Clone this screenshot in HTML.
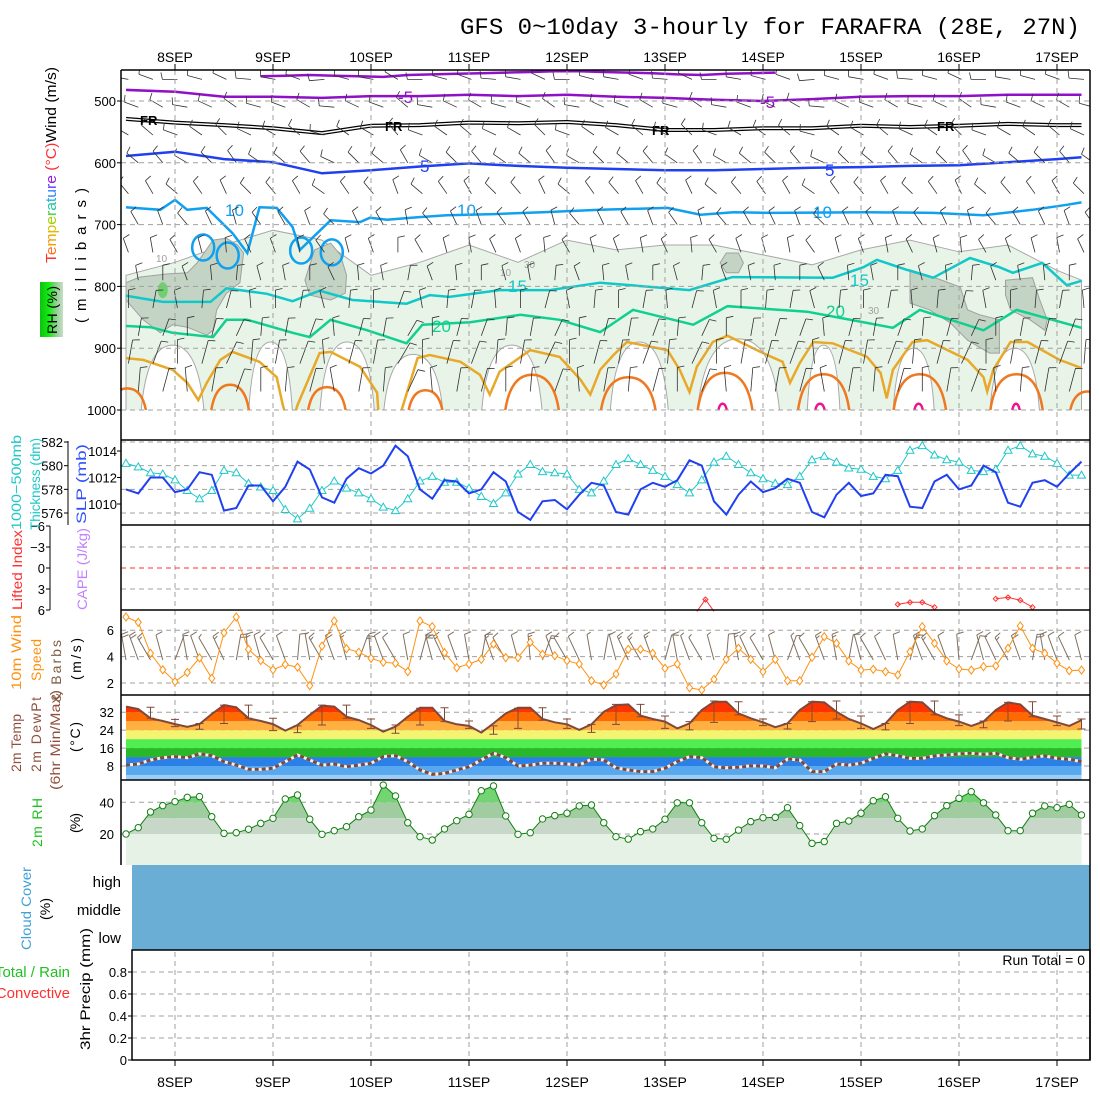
<!DOCTYPE html>
<html><head><meta charset="utf-8"><title>GFS meteogram FARAFRA</title>
<style>
html,body{margin:0;padding:0;background:#fff;}
svg{display:block;font-family:"Liberation Sans",sans-serif;}
</style></head>
<body>
<svg id="chart" xmlns="http://www.w3.org/2000/svg" width="1100" height="1100" viewBox="0 0 1100 1100">
<defs>
<clipPath id="clipUpper"><rect x="121" y="70" width="969" height="340"/></clipPath>
<clipPath id="clipTemp"><path id="tempClipPath" d=""/></clipPath>
<clipPath id="clipRH"><path id="rhClipPath" d=""/></clipPath>
<linearGradient id="rhgrad" x1="0" x2="1" y1="0" y2="0"><stop offset="0" stop-color="#10c010"/><stop offset="0.4" stop-color="#10f010"/><stop offset="0.7" stop-color="#90d090"/><stop offset="1" stop-color="#c8dcc8"/></linearGradient>
</defs>
<rect x="0" y="0" width="1100" height="1100" fill="#fff"/>
<text x="460" y="34" font-family="Liberation Mono, monospace" font-size="23" textLength="620" lengthAdjust="spacingAndGlyphs" fill="#000">GFS 0~10day 3-hourly for FARAFRA (28E, 27N)</text>

<g id="upperFill" clip-path="url(#clipUpper)"></g>
<g id="upperLines" clip-path="url(#clipUpper)"></g>
<g id="upperBarbs" clip-path="url(#clipUpper)"></g>
<g id="grid"></g>
<g id="marks"></g>
<g id="axes"></g>

<text transform="translate(56,263) rotate(-90)" font-size="15" textLength="196" lengthAdjust="spacingAndGlyphs"><tspan fill="#ff3030">T</tspan><tspan fill="#ff7020">e</tspan><tspan fill="#f0a000">m</tspan><tspan fill="#d8c000">p</tspan><tspan fill="#a0d000">e</tspan><tspan fill="#40d040">r</tspan><tspan fill="#20c8a0">a</tspan><tspan fill="#20b0e0">t</tspan><tspan fill="#3080ff">u</tspan><tspan fill="#6040ff">r</tspan><tspan fill="#9020e0">e</tspan><tspan fill="#ff3030"> (°C)</tspan><tspan fill="#000">Wind (m/s)</tspan></text>
<text transform="translate(86,323) rotate(-90)" font-size="15" textLength="135" lengthAdjust="spacing" fill="#000">(millibars)</text>
<rect x="40" y="282" width="23" height="55" fill="url(#rhgrad)"/>
<text transform="translate(57,334) rotate(-90)" font-size="14" textLength="48" fill="#000">RH (%)</text>

<text transform="translate(21,530) rotate(-90)" font-size="14" textLength="95" lengthAdjust="spacingAndGlyphs" fill="#20c8c8">1000−500mb</text>
<text transform="translate(40,530) rotate(-90)" font-size="14" textLength="92" lengthAdjust="spacingAndGlyphs" fill="#20c8c8">Thickness (dm)</text>
<text transform="translate(86,524) rotate(-90)" font-size="14" textLength="80" lengthAdjust="spacingAndGlyphs" fill="#3050ff">SLP (mb)</text>
<text transform="translate(22,610) rotate(-90)" font-size="14" textLength="80" lengthAdjust="spacingAndGlyphs" fill="#ff3030">Lifted Index</text>
<text transform="translate(87,610) rotate(-90)" font-size="14" textLength="82" lengthAdjust="spacingAndGlyphs" fill="#c080ff">CAPE (J/kg)</text>
<text transform="translate(21,690) rotate(-90)" font-size="14" textLength="75" lengthAdjust="spacingAndGlyphs" fill="#ff9010">10m Wind</text>
<text transform="translate(41,681) rotate(-90)" font-size="14" textLength="42" fill="#ff9010">Speed</text>
<text transform="translate(61,702) rotate(-90)" font-size="14" textLength="62" fill="#806040">&amp; Barbs</text>
<text transform="translate(81,680) rotate(-90)" font-size="14" textLength="42" fill="#000">(m/s)</text>
<text transform="translate(21,772) rotate(-90)" font-size="14" textLength="58" fill="#905040">2m Temp</text>
<text transform="translate(41,772) rotate(-90)" font-size="14" textLength="75" fill="#905040">2m DewPt</text>
<text transform="translate(60,790) rotate(-90)" font-size="14" textLength="100" lengthAdjust="spacingAndGlyphs" fill="#905040">(6hr Min/Max)</text>
<text transform="translate(80,752) rotate(-90)" font-size="14" textLength="30" fill="#000">(°C)</text>
<text transform="translate(42,847) rotate(-90)" font-size="14" textLength="49" fill="#20c020">2m RH</text>
<text transform="translate(80,833) rotate(-90)" font-size="14" textLength="20" fill="#000">(%)</text>
<text transform="translate(31,950) rotate(-90)" font-size="14" textLength="83" lengthAdjust="spacingAndGlyphs" fill="#40a0d8">Cloud Cover</text>
<text transform="translate(50,920) rotate(-90)" font-size="14" textLength="22" fill="#000">(%)</text>
<text x="121" y="887" font-size="15" text-anchor="end" fill="#000">high</text>
<text x="121" y="915" font-size="15" text-anchor="end" fill="#000">middle</text>
<text x="121" y="943" font-size="15" text-anchor="end" fill="#000">low</text>
<text x="70" y="977" font-size="15" text-anchor="end" fill="#20c020">Total / Rain</text>
<text x="70" y="998" font-size="15" text-anchor="end" fill="#ff3030">Convective</text>
<text transform="translate(90,1050) rotate(-90)" font-size="14" textLength="122" lengthAdjust="spacingAndGlyphs" fill="#000">3hr Precip (mm)</text>
<text x="1085" y="965" font-size="14" text-anchor="end" fill="#000">Run Total = 0</text>
</svg>

<script>
const days = ['8SEP','9SEP','10SEP','11SEP','12SEP','13SEP','14SEP','15SEP','16SEP','17SEP'];
const dayIdx = [4,12,20,28,36,44,52,60,68,76];
const slp = [1011.1,1010.8,1012.0,1012.0,1010.9,1011.1,1012.4,1012.2,1009.5,1009.7,1011.4,1011.4,1010.2,1011.3,1013.2,1012.6,1010.5,1010.1,
1011.9,1012.7,1012.3,1012.9,1014.4,1013.6,1011.1,1010.4,1011.8,1011.7,1010.8,1011.1,1012.4,1011.7,1009.4,1008.8,1010.2,1010.3,1009.6,1010.7,
1011.6,1011.4,1009.4,1009.2,1011.1,1011.6,1011.3,1011.8,1013.3,1012.9,1010.2,1009.2,1010.7,1011.7,1010.9,1011.2,1011.9,1011.6,1009.4,1009.0,
1010.7,1011.6,1010.6,1010.8,1012.2,1012.1,1009.8,1009.7,1011.7,1012.2,1011.1,1011.4,1012.9,1012.4,1010.1,1009.8,1011.6,1011.8,1011.3,1012.3,1013.2];
const thick = [580.2,579.9,579.4,579.3,578.8,577.9,577.2,577.9,579.6,579.4,578.5,578.2,577.9,576.3,575.5,576.4,577.9,578.7,578.1,
577.7,577.2,576.5,576.2,577.2,578.7,579.1,578.6,578.6,578.1,577.4,576.8,577.7,579.3,580.1,579.5,579.4,579.3,578.0,577.7,578.7,580.1,580.6,580.1,
579.6,579.1,578.4,577.7,578.8,580.3,580.8,580.1,579.4,578.9,578.5,578.4,579.1,580.5,580.8,580.3,579.8,579.7,579.1,578.9,579.6,581.3,581.7,580.9,
580.5,580.3,579.6,579.5,579.7,581.3,581.7,581.0,580.8,580.2,579.2,579.2];
const wspd = [7.0,6.6,4.25,3.0,2.1,2.8,3.9,2.35,5.8,7.0,4.55,3.7,3.0,3.4,3.2,1.8,4.8,6.7,4.6,
4.33,3.87,3.57,3.49,2.86,6.70,6.27,4.30,3.16,3.44,3.79,4.95,3.92,3.92,5.08,4.17,4.07,3.69,3.44,2.17,1.85,2.68,4.55,4.55,4.25,3.11,3.44,1.64,1.47,
2.28,3.79,4.63,3.79,2.86,3.79,2.17,2.17,3.95,5.51,5.01,3.67,2.98,3.04,2.86,2.61,4.37,6.27,5.01,3.67,3.06,2.98,3.24,3.29,4.63,6.32,4.63,4.25,3.49,2.93,2.98];
const wdir = [350,340,330,345,20,350,340,330,335,10,355,345,330,340,5,350,330,340,345,20,355,340,330,350,15,345,335,340,350,10,340,330,345,355,20,340,330,335,350,
10,345,335,330,340,15,350,340,330,345,5,350,335,330,345,20,340,330,340,350,10,345,330,335,350,15,340,330,340,355,20,345,335,330,340,10,350,340,335,345];
const temp2m = [34.5,33.4,29.3,28.1,26.7,25.5,26.7,31.2,35.2,34.2,29.3,28.1,26.7,23.8,26.3,30.8,34.9,34.5,30.0,
28.5,26.3,23.3,25.6,30.0,34.0,34.0,28.1,26.6,25.9,22.9,27.0,31.5,34.0,34.0,29.0,27.5,26.6,24.1,26.6,32.2,35.2,35.5,30.5,29.0,27.8,24.8,27.0,33.0,
36.7,36.7,31.5,29.3,27.5,25.3,27.0,33.0,36.7,36.4,32.2,29.0,27.0,24.5,27.0,33.0,36.7,36.4,31.5,29.3,27.8,25.9,27.8,33.0,36.4,35.5,30.5,29.0,27.5,25.9,28.5];
const dew2m = [8.4,8.9,10.7,11.7,12.2,11.7,13.4,12.6,9.9,8.4,6.5,6.5,7.0,9.9,12.9,10.7,8.4,8.9,
7.7,8.4,9.2,12.2,12.6,9.9,6.2,4.3,4.7,6.2,7.7,10.7,13.7,11.7,8.0,8.4,9.2,9.2,8.9,8.4,11.1,10.7,7.2,6.2,5.5,5.5,7.0,9.9,12.2,11.7,
7.7,7.2,7.4,8.1,8.0,7.2,11.1,10.7,5.5,5.5,8.9,8.4,9.2,11.4,13.4,12.6,11.4,11.4,12.5,12.9,13.4,13.7,13.2,13.7,11.7,11.0,11.9,12.5,11.4,11.0,9.9];
const tBarIdx = [2,4,6,8,10,12,14,16,18,20,22,24,26,28,30,32,34,36,38,40,42,44,46,48,50,52,54,56,58,60,62,64,66,68,70,72,74,76,78];
const tMax = [34.2,28.8,27.0,35.2,35.2,29.3,25.9,35.2,35.2,29.0,26.3,33.8,34.0,28.1,25.9,33.8,34.0,29.0,26.6,35.5,35.5,30.3,27.8,37.0,36.7,29.0,27.0,36.7,37.0,30.3,27.0,36.7,37.0,30.8,28.1,36.4,36.7,30.3,29.0];
const tMin = [29.3,25.6,24.4,27.0,29.3,23.8,22.9,26.3,29.3,24.8,22.6,26.3,27.8,24.8,22.2,24.8,28.5,24.8,23.0,26.6,30.0,24.8,24.1,27.5,30.8,26.0,24.5,27.8,29.0,24.8,24.1,27.0,30.8,26.0,25.1,28.1,30.0,26.0,24.5];
const rh2m = [20.0,24.0,33.9,37.9,40.4,43.1,43.6,30.9,20.4,20.8,23.0,26.7,29.9,42.1,44.6,29.3,19.8,22.1,
24.6,30.9,35.1,50.9,44.0,27.1,18.3,16.2,23.2,28.4,32.4,47.3,50.3,31.4,19.8,20.8,29.5,31.6,33.1,37.7,38.3,27.1,18.3,16.8,21.5,23.2,29.3,39.7,39.7,27.1,
17.3,16.7,22.5,27.8,30.3,30.5,36.6,25.3,14.1,15.2,26.7,28.2,33.1,41.0,43.5,29.9,21.9,23.2,31.6,37.9,42.5,46.7,39.7,32.0,22.1,22.1,33.1,37.7,36.6,38.7,32.0];
const liIdx = [[46.6,47.3,48.0],[63,64,65,66],[71,72,73,74]];
const liVal = [[6.2,4.5,6.2],[5.2,4.9,4.9,5.6],[4.4,4.2,4.6,5.6]];
const tempBandEdges = [4,8,12,16,20,24,28,32];
const tempBandColors = ['#9ccdf8','#58a8f0','#2b80e8','#28b828','#50ee50','#f4f470','#ffb040','#ff6a00','#ff3300'];
const rhBandEdges = [20,30,40];
const rhBandColors = ['#e6f2e6','#c8d8c8','#a0cca0','#74d474'];
const purpleT = [0,4,8,12,16,20,24,28,32,36,40,44,48,52,56,60,64,68,72,76,78];
const purpleP = [482,485,493,493,495,492,492,490,492,490,493,495,498,500,497,493,492,492,490,490,490];
const topPurpleT = [11,13,15,17,19,21,23,25,27,29,31,33,35,37,39,41,43,45,47,49,51,53];
const topPurpleP = [460,459,458,459,460,461,458,457,456,455,454,453,452,452,453,454,455,457,458,456,455,454];
const frT = [0,4,8,12,16,20,24,28,32,36,40,44,48,52,56,60,64,68,72,76,78];
const frP = [529,535,539,544,552,540,539,535,536,534,539,547,547,544,544,540,542,540,537,539,539];
const blueT = [0,4,8,12,16,20,24,28,32,36,40,44,48,52,56,60,64,68,72,76,78];
const blueP = [589,582,594,599,617,612,606,601,605,608,610,612,612,610,608,607,605,604,599,594,591];
const lbT = [0,2.8,4,5,6.6,8.7,9.9,10.9,12.3,13.6,14.2,15.6,16.7,19.1,19.9,21.3,23.8,26.2,30,34,38.7,44.2,46.9,49.6,52.8,60.5,65.9,70,74,76.8,78];
const lbP = [672,676,660,676,673,714,746,672,673,704,741,714,693,696,689,692,688,685,683,680,676,673,684,680,681,680,681,685,676,668,664];
const lbLoopT = [6.3,8.3,14.3,16.8];
const lbLoopP = [737,750,742,745];
const cyT = [0,3,6.9,8.2,11.5,13.6,15.8,18.5,22.9,24.8,26.4,30.5,34.6,38.7,46,49.5,57.7,60.2,61.3,63.7,65.9,68.9,71.3,72.4,74.8,76.8,78];
const cyP = [815,825,825,803,812,824,807,822,828,814,817,806,806,794,806,785,786,769,757,773,786,754,769,778,762,798,791];
const grT = [0,2,3.8,7.1,8.2,9.9,13.6,15,16.7,19.7,22.9,24.2,28.1,32.2,35.4,38.7,41.4,46.3,49.1,55.6,58.3,62.6,64.8,70,72.7,78];
const grP = [864,866,875,882,854,854,875,882,854,871,892,862,858,846,854,874,838,862,832,841,851,867,838,871,838,867];
const oyT = [0,1.4,3.8,5.0,5.9,6.6,7.7,8.7,10.9,12.3,12.8,13.4,14.0,15.8,16.7,19.1,20.5,20.7,22.0,23.8,24.8,27.3,28.9,29.7,30.5,33.0,35.4,37.1,37.9,38.7,39.8,40.9,44.2,45.2,46.0,46.6,47.9,49.1,51.8,53.6,54.2,55.0,56.1,57.7,60.5,61.6,62.1,62.6,64.2,65.4,68.7,70.0,70.3,70.8,72.2,73.6,76.2,78];
const oyP = [916,919,935,956,984,956,919,906,922,947,992,1032,992,908,906,930,972,1032,1032,916,911,922,943,975,938,903,914,951,975,935,911,890,903,935,971,930,890,880,906,922,956,924,890,892,914,940,981,935,890,887,919,947,970,935,890,890,919,932];
const archS = [-1.5,6.9,14.8,23.0,30.9,38.7,46.6,54.8,62.6,70.5,77.0];
const archE = [1.7,10.1,18.0,25.9,35.4,43.3,51.2,59.1,67.0,74.9,80.0];
const archTop = [965,959,963,968,943,947,940,942,942,942,970];
const magS = [48.3,56.2,64.3,72.3];
const magE = [49.1,57.1,65.1,73.0];
const magTop = [990,990,990,990];
const holeS = [1.2,10,15.8,21.0,29,39.5,46.6,55.6,62.6,70.5];
const holeE = [6.4,13.6,20.3,25.9,34,44.3,53.4,58.3,66,74.6];
const holeTop = [895,890,890,910,895,890,885,895,900,900];
const pgT = [0,4,8,12,16,20,24,28,32,36,40,44,48,52,56,60,64,68,72,76,78];
const pgP = [782,761,733,709,725,782,761,733,761,725,741,733,733,749,765,741,725,744,733,774,790];
const patchA = [[0,794],[1.1,785],[3.3,780],[5,778],[5.8,762],[7.1,725],[8.2,722],[9.1,733],[9.6,746],[9.3,794],[8.2,811],[7.4,838],[7.1,871],[6.6,879],[5,866],[3.8,862],[2.8,875],[1.4,854],[0,822]];
const patchB = [[14.6,790],[15.4,741],[16.7,730],[17.5,749],[18,782],[17.9,811],[16.7,822],[15,814]];
const patchC = [[48.5,762],[49,746],[50,746],[50.4,762],[50,778],[49,778]];
const patchD = [[64,773],[65.9,785],[68.1,801],[68.7,838],[69.7,846],[71.3,854],[71.3,908],[70.5,908],[68.7,887],[67.3,859],[65.6,838],[64,827]];
const patchE = [[71.8,790],[74,786],[74.6,822],[75.2,854],[75,871],[73.8,854],[72.2,838],[71.8,814]];
const barbLevels = [465,510,555,600,650,700,745,790,835,880,925,970];
const barbLevelDir = [280,290,300,310,320,330,340,350,0,10,10,5];
const barbLevelSpd = [6,5,5,4,4,4,4,5,5,6,6,5];
const barbColShift = [0,10,-10,5,15,-5,0,10,-15,5,0,20,-10,5,10,-5,0,15,-10,5,0,10,-5,15,-10,0,5,10,-15,5,0,10,-5,5,15,-10,0,5,10,-5];

const X0 = 126, DX = 12.25;
function xOf(i){ return X0 + i*DX; }
function yP(p){ return 101 + (p-500)*0.618; }
function ySlp(v){ return 504 - (v-1010)*13.25; }
function yTh(v){ return 513 - (v-576)*11.83; }
function yLI(v){ return 568 + v*7; }
function yW(v){ return 683 - (v-2)*13.2; }
function yT(v){ return 766 - (v-8)*2.24; }
function yR(v){ return 834 - (v-20)*1.585; }
function yPr(v){ return 1060 - v*110; }

const NS = 'http://www.w3.org/2000/svg';
function mk(parent, tag, attrs, name){
  const el = document.createElementNS(NS, tag);
  for (const k in attrs) el.setAttribute(k, attrs[k]);
  
  
  parent.appendChild(el);
  return el;
}
function txt(parent, x, y, s, attrs, name){
  const el = mk(parent, 'text', Object.assign({x:x, y:y, 'font-size':13, fill:'#000'}, attrs), name);
  el.textContent = s;
  return el;
}
function linePath(ts, ps){ return ts.map((t,k)=>(k?'L':'M')+xOf(t).toFixed(1)+','+yP(ps[k]).toFixed(1)).join(''); }
function seriesPath(vals, yf){ return vals.map((v,k)=>(k?'L':'M')+xOf(k).toFixed(1)+','+yf(v).toFixed(1)).join(''); }
function polyPath(pts){ return pts.map((q,k)=>(k?'L':'M')+xOf(q[0]).toFixed(1)+','+yP(q[1]).toFixed(1)).join('')+'Z'; }
function archPath(s,e,top){
  const xs=xOf(s), xe=xOf(e), yb=yP(1010), yt=yP(top), xm=(xs+xe)/2, w=(xe-xs);
  return 'M'+xs.toFixed(1)+','+yb.toFixed(1)+' Q'+(xs+w*0.08).toFixed(1)+','+yt.toFixed(1)+' '+xm.toFixed(1)+','+yt.toFixed(1)+' Q'+(xe-w*0.08).toFixed(1)+','+yt.toFixed(1)+' '+xe.toFixed(1)+','+yb.toFixed(1);
}

const fillG = document.getElementById('upperFill');
const lineG = document.getElementById('upperLines');
const barbG = document.getElementById('upperBarbs');
const gridG = document.getElementById('grid');
const marksG = document.getElementById('marks');
const axesG = document.getElementById('axes');

let pg = 'M'+xOf(0)+','+yP(1010);
pgT.forEach((t,k)=>{ pg += 'L'+xOf(t).toFixed(1)+','+yP(pgP[k]).toFixed(1); });
pg += 'L'+xOf(78)+','+yP(1010)+'Z';
mk(fillG,'path',{d:pg, fill:'#e8f4e8', stroke:'#a8a8a8', 'stroke-width':1},'rh-10-area');
holeS.forEach((s,k)=>{
  mk(fillG,'path',{d:archPath(s,holeE[k],holeTop[k])+'Z', fill:'#fff', stroke:'none'},'dry-area');
  mk(fillG,'path',{d:archPath(s,holeE[k],holeTop[k]), fill:'none', stroke:'#a8a8a8','stroke-width':1},'dry-area-edge');
});
[patchA,patchB,patchC,patchD,patchE].forEach((pt,k)=>{ mk(fillG,'path',{d:polyPath(pt), fill:'#c4d4c4', stroke:'#a0a0a0','stroke-width':1},'rh-30-area'); });
mk(fillG,'ellipse',{cx:xOf(3), cy:yP(806), rx:5, ry:8, fill:'#70d070'},'rh-50-area');

mk(lineG,'path',{d:linePath(topPurpleT,topPurpleP), fill:'none', stroke:'#9010c8','stroke-width':2.5},'contour-minus10');
mk(lineG,'path',{d:linePath(purpleT,purpleP), fill:'none', stroke:'#9010c8','stroke-width':2.5},'contour-minus5');
mk(lineG,'path',{d:linePath(frT,frP), fill:'none', stroke:'#000','stroke-width':4},'contour-freezing-outer');
mk(lineG,'path',{d:linePath(frT,frP), fill:'none', stroke:'#fff','stroke-width':1.5},'contour-freezing-inner');
mk(lineG,'path',{d:linePath(blueT,blueP), fill:'none', stroke:'#2040f0','stroke-width':2.5},'contour-5');
mk(lineG,'path',{d:linePath(lbT,lbP), fill:'none', stroke:'#10a0f0','stroke-width':2.5},'contour-10');
lbLoopT.forEach((t,k)=>{ mk(lineG,'ellipse',{cx:xOf(t), cy:yP(lbLoopP[k]), rx:11, ry:13, fill:'none', stroke:'#10a0f0','stroke-width':2.5},'contour-10-loop'); });
mk(lineG,'path',{d:linePath(cyT,cyP), fill:'none', stroke:'#10c8c8','stroke-width':2.5},'contour-15');
mk(lineG,'path',{d:linePath(grT,grP), fill:'none', stroke:'#10d090','stroke-width':2.5},'contour-20');
mk(lineG,'path',{d:linePath(oyT,oyP), fill:'none', stroke:'#e8a828','stroke-width':2.5},'contour-25');
archS.forEach((s,k)=>{ mk(lineG,'path',{d:archPath(s,archE[k],archTop[k]), fill:'none', stroke:'#f07820','stroke-width':2.5},'contour-30'); });
magS.forEach((s,k)=>{ mk(lineG,'path',{d:archPath(s,magE[k],magTop[k]), fill:'none', stroke:'#f01090','stroke-width':2.5},'contour-35'); });
const clab = [['-5',398,103,'#9010c8'],['-5',760,108,'#9010c8'],['FR',140,125,'#000'],['FR',385,131,'#000'],['FR',652,135,'#000'],['FR',937,131,'#000'],
['5',420,172,'#2040f0'],['5',825,176,'#2040f0'],['10',225,216,'#10a0f0'],['10',457,216,'#10a0f0'],['10',813,218,'#10a0f0'],
['15',508,292,'#10c8c8'],['15',850,286,'#10c8c8'],['20',432,332,'#10d090'],['20',826,317,'#10d090']];
clab.forEach(c=>{
  const fs = c[0]==='FR'?13:17;
  txt(lineG,c[1],c[2],c[0],{'font-size':fs, fill:c[3], 'font-weight':c[0]==='FR'?'bold':'normal'},'contour-label');
});
txt(lineG,156,262,'10',{'font-size':10, fill:'#a0a0a0'},'rh-contour-label');
txt(lineG,500,276,'10',{'font-size':10, fill:'#a0a0a0'},'rh-contour-label');
txt(lineG,524,268,'30',{'font-size':10, fill:'#a0a0a0'},'rh-contour-label');
txt(lineG,868,314,'30',{'font-size':10, fill:'#a0a0a0'},'rh-contour-label');

function barb(parent, x, y, dir, spd, len, color, width, name){
  const a = dir*Math.PI/180;
  const ux = Math.sin(a), uy = -Math.cos(a);
  const tx = x+ux*len, ty = y+uy*len;
  let d = 'M'+x.toFixed(1)+','+y.toFixed(1)+'L'+tx.toFixed(1)+','+ty.toFixed(1);
  let n = Math.round(spd/2.5);
  let pos = 0;
  const px = Math.cos(a), py = Math.sin(a);
  while(n>0){
    const bx = tx-ux*pos, by = ty-uy*pos;
    const fl = n>=2?7:4;
    d += 'M'+bx.toFixed(1)+','+by.toFixed(1)+'L'+(bx+px*fl+ux*1.5).toFixed(1)+','+(by+py*fl+uy*1.5).toFixed(1);
    n -= 2; pos += 3;
  }
  mk(parent,'path',{d:d, fill:'none', stroke:color, 'stroke-width':width},name);
}
for(let c=0;c<40;c++){
  barbLevels.forEach((p,l)=>{
    const i = c*2 + (l%2?1:0.2);
    const len = p>880?24:(p>800?18:15);
    barb(barbG, xOf(i), yP(p), barbLevelDir[l]+barbColShift[c], barbLevelSpd[l], len, '#303030', 0.8, 'upper-wind-barb');
  });
}

dayIdx.forEach((di,k)=>{
  const x = xOf(di);
  mk(gridG,'line',{x1:x,y1:70,x2:x,y2:1060,stroke:'#a0a0a0','stroke-width':1,'stroke-dasharray':'5,4'},'day-gridline');
  mk(axesG,'line',{x1:x,y1:70,x2:x,y2:64,stroke:'#000'},'top-day-tick');
  mk(axesG,'line',{x1:x,y1:1060,x2:x,y2:1066,stroke:'#000'},'bottom-day-tick');
  txt(axesG,x,62,days[k],{'font-size':14,'text-anchor':'middle'},'top-date-label');
  txt(axesG,x,1087,days[k],{'font-size':14,'text-anchor':'middle'},'bottom-date-label');
});
function hgrid(y, x1){ mk(gridG,'line',{x1:x1,y1:y,x2:1090,y2:y,stroke:'#a0a0a0','stroke-width':1,'stroke-dasharray':'5,4'},'value-gridline'); }
const presTicks = [500,600,700,800,900,1000];
presTicks.forEach(p=>{ hgrid(yP(p),121); txt(axesG,116,yP(p)+5,String(p),{'font-size':13,'text-anchor':'end'},'pressure-tick-label'); mk(axesG,'line',{x1:117,y1:yP(p),x2:121,y2:yP(p),stroke:'#000'},'pressure-tick'); });
const slpTicks = [1010,1012,1014];
slpTicks.forEach(v=>{ txt(axesG,117,ySlp(v)+5,String(v),{'font-size':13,'text-anchor':'end'},'slp-tick-label'); mk(axesG,'line',{x1:117,y1:ySlp(v),x2:121,y2:ySlp(v),stroke:'#000'},'slp-tick'); });
const thTicks = [576,578,580,582];
thTicks.forEach(v=>{ hgrid(yTh(v),121); txt(axesG,63,yTh(v)+5,String(v),{'font-size':13,'text-anchor':'end'},'thickness-tick-label'); mk(axesG,'line',{x1:64,y1:yTh(v),x2:68,y2:yTh(v),stroke:'#000'},'thickness-tick'); });
mk(axesG,'line',{x1:68,y1:441,x2:68,y2:525,stroke:'#000'},'thickness-axis');
const liTicks = [-6,-3,0,3,6];
liTicks.forEach(v=>{ if(v!==0&&Math.abs(v)<6) hgrid(yLI(v),121); txt(axesG,45,yLI(v)+5,v<0?'−'+(-v):String(v),{'font-size':13,'text-anchor':'end'},'li-tick-label'); mk(axesG,'line',{x1:46,y1:yLI(v),x2:50,y2:yLI(v),stroke:'#000'},'li-tick'); });
mk(axesG,'line',{x1:50,y1:526,x2:50,y2:610,stroke:'#000'},'li-axis');
mk(gridG,'line',{x1:121,y1:yLI(0),x2:1090,y2:yLI(0),stroke:'#ff3030','stroke-width':1,'stroke-dasharray':'5,4'},'li-zero-line');
const wTicks = [2,4,6];
wTicks.forEach(v=>{ hgrid(yW(v),121); txt(axesG,114,yW(v)+5,String(v),{'font-size':13,'text-anchor':'end'},'wind-tick-label'); });
const tTicks = [8,16,24,32];
tTicks.forEach(v=>{ txt(axesG,114,yT(v)+5,String(v),{'font-size':13,'text-anchor':'end'},'temp-tick-label'); });
const rTicks = [20,40];
rTicks.forEach(v=>{ txt(axesG,114,yR(v)+5,String(v),{'font-size':13,'text-anchor':'end'},'rh-tick-label'); });
const prTicks = [0,0.2,0.4,0.6,0.8];
prTicks.forEach(v=>{ if(v>0) hgrid(yPr(v),132); txt(axesG,127,yPr(v)+5,String(v),{'font-size':13,'text-anchor':'end'},'precip-tick-label'); mk(axesG,'line',{x1:128,y1:yPr(v),x2:132,y2:yPr(v),stroke:'#000'},'precip-tick'); });

let tc = 'M'+xOf(0)+',780';
temp2m.forEach((v,k)=>{ tc += 'L'+xOf(k).toFixed(1)+','+yT(v).toFixed(1); });
tc += 'L'+xOf(temp2m.length-1)+',780Z';
document.getElementById('tempClipPath').setAttribute('d', tc);
const tg = mk(marksG,'g',{'clip-path':'url(#clipTemp)'},'temp-fill');
const edgesT = [0].concat(tempBandEdges).concat([50]);
tempBandColors.forEach((c,k)=>{
  const y1 = yT(edgesT[k+1]), y2 = Math.min(780, yT(edgesT[k]));
  mk(tg,'rect',{x:xOf(0), y:y1, width:xOf(78)-xOf(0), height:y2-y1, fill:c},'temp-band');
});
tTicks.forEach(v=>{ hgrid(yT(v),121); });
mk(marksG,'path',{d:seriesPath(temp2m,yT), fill:'none', stroke:'#804838','stroke-width':2},'temperature-line');
tBarIdx.forEach((i,k)=>{
  const x = xOf(i);
  mk(marksG,'path',{d:'M'+x+','+yT(tMax[k])+'V'+yT(tMin[k])+'M'+(x-4)+','+yT(tMax[k])+'h8M'+(x-4)+','+yT(tMin[k])+'h8', stroke:'#804838', fill:'none','stroke-width':1},'temp-minmax-bar');
});
mk(marksG,'path',{d:seriesPath(dew2m,yT), fill:'none', stroke:'#f0f0f0','stroke-width':3},'dewpoint-line-bg');
mk(marksG,'path',{d:seriesPath(dew2m,yT), fill:'none', stroke:'#804838','stroke-width':3,'stroke-dasharray':'4,3'},'dewpoint-line');

let rc = 'M'+xOf(0)+',865';
rh2m.forEach((v,k)=>{ rc += 'L'+xOf(k).toFixed(1)+','+yR(v).toFixed(1); });
rc += 'L'+xOf(rh2m.length-1)+',865Z';
document.getElementById('rhClipPath').setAttribute('d', rc);
const rg = mk(marksG,'g',{'clip-path':'url(#clipRH)'},'rh-fill');
const edgesR = [0].concat(rhBandEdges).concat([100]);
rhBandColors.forEach((c,k)=>{
  const y1 = yR(edgesR[k+1]), y2 = Math.min(865, yR(edgesR[k]));
  mk(rg,'rect',{x:xOf(0), y:y1, width:xOf(78)-xOf(0), height:y2-y1, fill:c},'rh-band');
});
rTicks.forEach(v=>{ hgrid(yR(v),121); });
mk(marksG,'path',{d:seriesPath(rh2m,yR), fill:'none', stroke:'#108010','stroke-width':1},'rh-line');
rh2m.forEach((v,k)=>{ mk(marksG,'circle',{cx:xOf(k), cy:yR(v), r:3.2, fill:'#fff', stroke:'#108010','stroke-width':1},'rh-point'); });

mk(marksG,'path',{d:seriesPath(thick,yTh), fill:'none', stroke:'#20c8c8','stroke-width':1},'thickness-line');
thick.forEach((v,k)=>{ const x=xOf(k), y=yTh(v); mk(marksG,'path',{d:'M'+x+','+(y-4)+'L'+(x+4)+','+(y+3)+'L'+(x-4)+','+(y+3)+'Z', fill:'#fff', stroke:'#20c8c8','stroke-width':1},'thickness-point'); });
mk(marksG,'path',{d:seriesPath(slp,ySlp), fill:'none', stroke:'#2040f0','stroke-width':2},'slp-line');

liIdx.forEach((arr,k)=>{
  let d=''; arr.forEach((i,j)=>{ d += (j?'L':'M')+xOf(i)+','+yLI(liVal[k][j]); });
  mk(marksG,'path',{d:d, fill:'none', stroke:'#ff3030','stroke-width':1},'lifted-index-line');
  arr.forEach((i,j)=>{ const x=xOf(i), y=yLI(liVal[k][j]); if(y<609) mk(marksG,'path',{d:'M'+x+','+(y-2.5)+'L'+(x+2.5)+','+y+'L'+x+','+(y+2.5)+'L'+(x-2.5)+','+y+'Z', fill:'none', stroke:'#ff3030'},'lifted-index-point'); });
});

wdir.forEach((d,k)=>{ barb(marksG, xOf(k), 660, d, wspd[k]*1.5, 26, '#807060', 1, 'surface-wind-barb'); });
mk(marksG,'path',{d:seriesPath(wspd,yW), fill:'none', stroke:'#ff9010','stroke-width':1},'wind-speed-line');
wspd.forEach((v,k)=>{ const x=xOf(k), y=yW(v); mk(marksG,'path',{d:'M'+x+','+(y-4)+'L'+(x+3)+','+y+'L'+x+','+(y+4)+'L'+(x-3)+','+y+'Z', fill:'#fff', stroke:'#ff9010'},'wind-speed-point'); });

mk(marksG,'rect',{x:132, y:865, width:958, height:85, fill:'#6aaed6'},'cloud-cover-area');

mk(axesG,'line',{x1:121,y1:70,x2:1090,y2:70,stroke:'#000','stroke-width':1.5},'top-frame');
mk(axesG,'line',{x1:121,y1:70,x2:121,y2:865,stroke:'#000','stroke-width':1.5},'left-frame');
mk(axesG,'line',{x1:1090,y1:70,x2:1090,y2:1060,stroke:'#000','stroke-width':1.5},'right-frame');
[440,525,610,695,780].forEach(y=>{ mk(axesG,'line',{x1:121,y1:y,x2:1090,y2:y,stroke:'#000','stroke-width':1.5},'panel-divider'); });
mk(axesG,'rect',{x:132,y:950,width:958,height:110,fill:'none',stroke:'#000','stroke-width':1.5},'precip-frame');
</script>
</body></html>
